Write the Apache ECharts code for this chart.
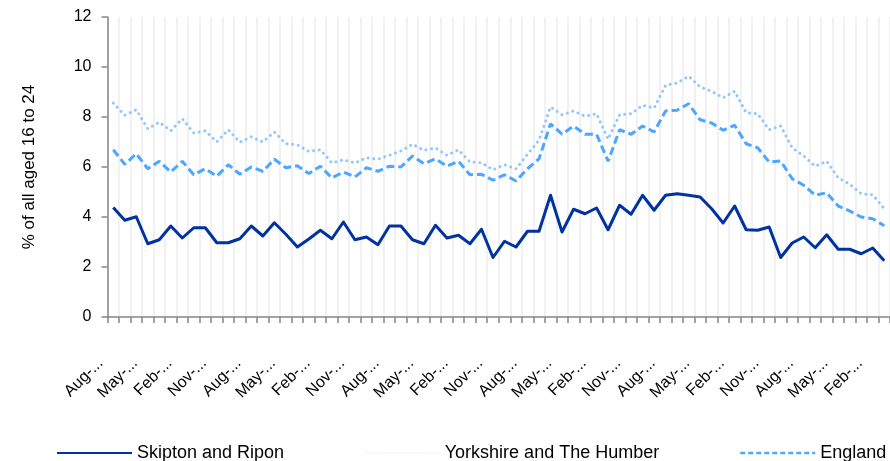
<!DOCTYPE html>
<html>
<head>
<meta charset="utf-8">
<script src="https://cdn.jsdelivr.net/npm/echarts@6/dist/echarts.min.js"></script>
<style>
html,body{margin:0;padding:0;background:#fff;}
#chart{width:890px;height:461px;}
</style>
</head>
<body>
<div id="chart"></div>
<script>
// Quarterly categories (labels are truncated in the source chart)
const categories = [
  'Aug-...','Nov-...','Feb-...','May-...','Aug-...','Nov-...','Feb-...','May-...',
  'Aug-...','Nov-...','Feb-...','May-...','Aug-...','Nov-...','Feb-...','May-...',
  'Aug-...','Nov-...','Feb-...','May-...','Aug-...','Nov-...','Feb-...','May-...',
  'Aug-...','Nov-...','Feb-...','May-...','Aug-...','Nov-...','Feb-...','May-...',
  'Aug-...','Nov-...','Feb-...','May-...','Aug-...','Nov-...','Feb-...','May-...',
  'Aug-...','Nov-...','Feb-...','May-...','Aug-...','Nov-...','Feb-...','May-...',
  'Aug-...','Nov-...','Feb-...','May-...','Aug-...','Nov-...','Feb-...','May-...',
  'Aug-...','Nov-...','Feb-...','May-...','Aug-...','Nov-...','Feb-...','May-...',
  'Aug-...','Nov-...','Feb-...','May-...'
];

const skipton = [
  4.38,3.87,4.01,2.93,3.09,3.64,3.16,3.57,3.57,2.97,2.97,3.13,3.64,3.24,3.77,3.31,
  2.80,3.12,3.47,3.13,3.80,3.09,3.20,2.89,3.64,3.64,3.09,2.93,3.67,3.16,3.27,2.93,
  3.51,2.38,3.03,2.80,3.43,3.43,4.87,3.40,4.31,4.13,4.36,3.49,4.47,4.11,4.87,4.27,
  4.87,4.93,4.87,4.80,4.33,3.76,4.44,3.49,3.47,3.60,2.38,2.96,3.20,2.77,3.29,2.71,
  2.71,2.53,2.76,2.25
];

const yorkshire = [
  8.56,8.07,8.29,7.53,7.79,7.45,7.93,7.36,7.45,7.01,7.49,6.99,7.21,7.00,7.40,6.93,
  6.89,6.62,6.69,6.16,6.29,6.16,6.37,6.31,6.47,6.64,6.91,6.67,6.76,6.47,6.69,6.20,
  6.17,5.89,6.09,5.93,6.51,7.07,8.40,8.09,8.24,8.03,8.13,7.11,8.09,8.13,8.47,8.36,
  9.27,9.36,9.63,9.20,9.03,8.77,9.03,8.17,8.13,7.49,7.64,6.77,6.44,6.03,6.23,5.57,
  5.31,4.93,4.89,4.33
];

const england = [
  6.69,6.11,6.53,5.93,6.23,5.80,6.23,5.69,5.93,5.63,6.09,5.71,6.00,5.83,6.31,5.97,
  6.05,5.74,6.03,5.56,5.80,5.60,5.97,5.83,6.03,6.00,6.44,6.13,6.33,6.03,6.23,5.69,
  5.71,5.47,5.69,5.44,5.93,6.33,7.73,7.31,7.64,7.31,7.31,6.23,7.49,7.31,7.64,7.40,
  8.24,8.27,8.53,7.89,7.76,7.47,7.67,6.93,6.77,6.20,6.24,5.53,5.27,4.87,4.97,4.44,
  4.24,4.00,3.93,3.65
];

const yTicks = [0, 2, 4, 6, 8, 10, 12];
const seriesNames = ['Skipton and Ripon', 'Yorkshire and The Humber', 'England'];

const FONT = '"Liberation Sans", Arial, sans-serif';
const chart = echarts.init(document.getElementById('chart'), null, {renderer: 'canvas'});

const hiddenSymbol = {color: 'rgba(0,0,0,0)', borderColor: 'rgba(0,0,0,0)', borderWidth: 0, opacity: 0};
const legendCommon = {
  top: 439,
  itemWidth: 75,
  itemHeight: 14,
  itemStyle: hiddenSymbol,
  textStyle: {fontFamily: FONT, fontSize: 18, color: '#000'},
  selectedMode: false
};

chart.setOption({
  animation: false,
  backgroundColor: '#fff',
  grid: {left: 107.5, top: 17, width: 790.6, height: 300, containLabel: false},
  legend: [
    Object.assign({}, legendCommon, {left: 51, data: [seriesNames[0]]}),
    Object.assign({}, legendCommon, {left: 359, data: [{name: seriesNames[1], lineStyle: {width: 1.5, color: '#eef3fb', type: [1.5, 2]}}]}),
    Object.assign({}, legendCommon, {left: 734, data: [{name: seriesNames[2], lineStyle: {width: 2.5, type: [5, 3]}}]})
  ],
  xAxis: {
    type: 'category',
    data: categories,
    boundaryGap: true,
    axisLine: {lineStyle: {color: '#868686', width: 1.5}},
    axisTick: {show: true, interval: 0, length: 6, lineStyle: {color: '#868686', width: 1.5}},
    splitLine: {show: true, interval: 0, lineStyle: {color: '#ededed', width: 1.5}},
    axisLabel: {
      interval: 2,
      rotate: 45,
      margin: 31,
      padding: [0, 18, 0, 0],
      fontFamily: FONT,
      fontSize: 16,
      color: '#000'
    }
  },
  yAxis: {
    type: 'value',
    min: yTicks[0],
    max: yTicks[yTicks.length - 1],
    interval: 2,
    name: '% of all aged 16 to 24',
    nameLocation: 'middle',
    nameGap: 70,
    nameRotate: 90,
    nameTextStyle: {fontFamily: FONT, fontSize: 17, color: '#000'},
    axisLine: {show: true, lineStyle: {color: '#868686', width: 1.5}},
    axisTick: {show: true, length: 6, lineStyle: {color: '#868686', width: 1.5}},
    splitLine: {show: false},
    axisLabel: {margin: 16, fontFamily: FONT, fontSize: 16, color: '#000'}
  },
  series: [
    {
      name: seriesNames[0], type: 'line', data: skipton, symbol: 'none', z: 5,
      lineStyle: {color: '#0033a1', width: 3, join: 'round'},
      itemStyle: {color: '#0033a1'}
    },
    {
      name: seriesNames[1], type: 'line', data: yorkshire, symbol: 'none', z: 3,
      lineStyle: {color: '#93c8ff', width: 3, type: [0.1, 5.6], cap: 'round'},
      itemStyle: {color: '#93c8ff'}
    },
    {
      name: seriesNames[2], type: 'line', data: england, symbol: 'none', z: 4,
      lineStyle: {color: '#4da6ff', width: 3, type: [8, 4]},
      itemStyle: {color: '#4da6ff'}
    }
  ]
});
</script>
</body>
</html>
